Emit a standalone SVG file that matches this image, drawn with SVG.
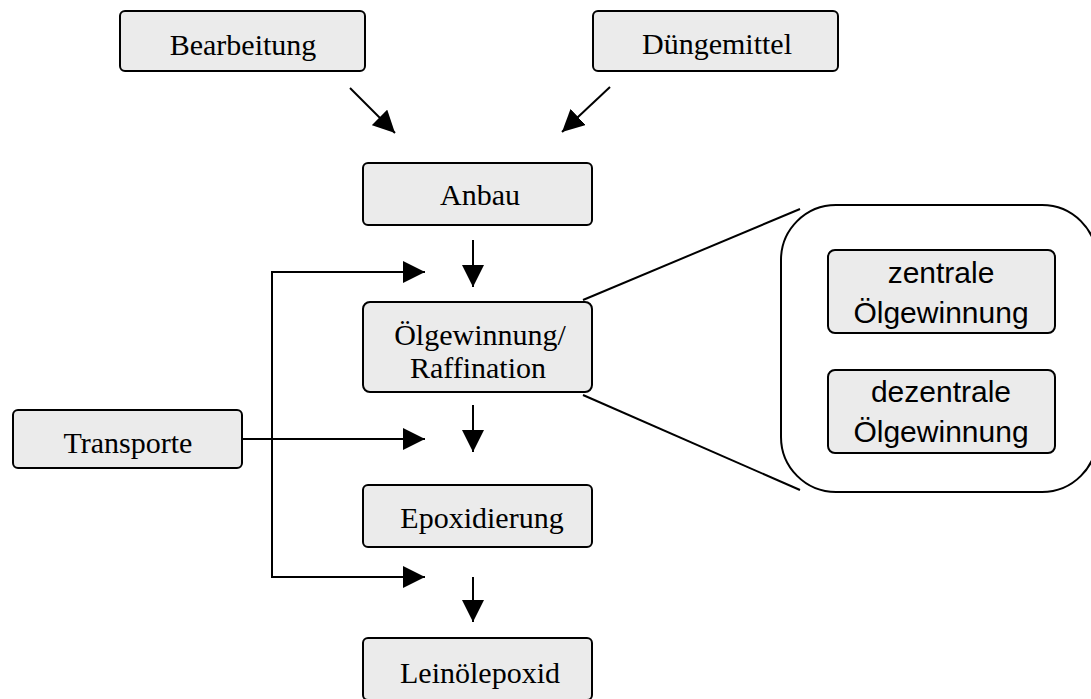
<svg xmlns="http://www.w3.org/2000/svg" width="1091" height="699" viewBox="0 0 1091 699">
<style>
.box{fill:#ebebeb;stroke:#000;stroke-width:2}
.serif{font-family:"Liberation Serif","Times New Roman",serif;font-size:30px;fill:#000;text-anchor:middle}
.sans{font-family:"Liberation Sans",Arial,sans-serif;font-size:30px;fill:#000;text-anchor:middle}
.ln{stroke:#000;stroke-width:2;fill:none}
.arr{stroke:#000;stroke-width:2;fill:none;marker-end:url(#ah)}
</style>
<defs>
<marker id="ah" markerUnits="userSpaceOnUse" markerWidth="22" markerHeight="22" refX="20" refY="10" orient="auto" viewBox="0 0 20 20">
<path d="M0,0 L20,10 L0,20 z" fill="#000"/>
</marker>
</defs>
<rect x="0" y="0" width="1091" height="699" fill="#fff"/>
<g id="connectors">
<line class="arr" x1="350" y1="88" x2="395" y2="133"/>
<line class="arr" x1="610" y1="87" x2="562" y2="132"/>
<line class="arr" x1="473" y1="240" x2="473" y2="287"/>
<line class="arr" x1="473" y1="405" x2="473" y2="452"/>
<line class="arr" x1="473" y1="577" x2="473" y2="622"/>
<polyline class="ln" points="242,439 272,439"/>
<line class="ln" x1="272" y1="271" x2="272" y2="577"/>
<line class="arr" x1="271" y1="272" x2="425" y2="272"/>
<line class="arr" x1="272" y1="439" x2="425" y2="439"/>
<line class="arr" x1="271" y1="577" x2="425" y2="577"/>
<line class="ln" x1="583" y1="300" x2="800" y2="209"/>
<line class="ln" x1="583" y1="395" x2="800" y2="490"/>
</g>
<g id="bearbeitung"><rect class="box" x="120" y="11" width="245" height="60" rx="5"/><text class="serif" x="243" y="55">Bearbeitung</text></g>
<g id="duengemittel"><rect class="box" x="593" y="11" width="245" height="60" rx="5"/><text class="serif" x="717" y="54">Düngemittel</text></g>
<g id="anbau"><rect class="box" x="363" y="163" width="229" height="62" rx="5"/><text class="serif" x="480" y="205">Anbau</text></g>
<g id="oelgewinnung"><rect class="box" x="363" y="302" width="229" height="90" rx="7"/><text class="serif" x="480" y="345">Ölgewinnung/</text><text class="serif" x="478" y="378">Raffination</text></g>
<g id="transporte"><rect class="box" x="13" y="410" width="229" height="58" rx="5"/><text class="serif" x="128" y="453">Transporte</text></g>
<g id="epoxidierung"><rect class="box" x="363" y="485" width="229" height="62" rx="5"/><text class="serif" x="482" y="528">Epoxidierung</text></g>
<g id="leinoelepoxid"><rect class="box" x="363" y="638" width="229" height="62" rx="5"/><text class="serif" x="480" y="683">Leinölepoxid</text></g>
<g id="detail">
<rect x="781" y="205" width="316" height="287" rx="55" fill="#fff" stroke="#000" stroke-width="2"/>
<g id="zentrale"><rect class="box" x="828" y="250" width="227" height="83" rx="7"/><text class="sans" x="941" y="283">zentrale</text><text class="sans" x="941" y="323">Ölgewinnung</text></g>
<g id="dezentrale"><rect class="box" x="828" y="370" width="227" height="83" rx="7"/><text class="sans" x="941" y="402">dezentrale</text><text class="sans" x="941" y="442">Ölgewinnung</text></g>
</g>
</svg>
